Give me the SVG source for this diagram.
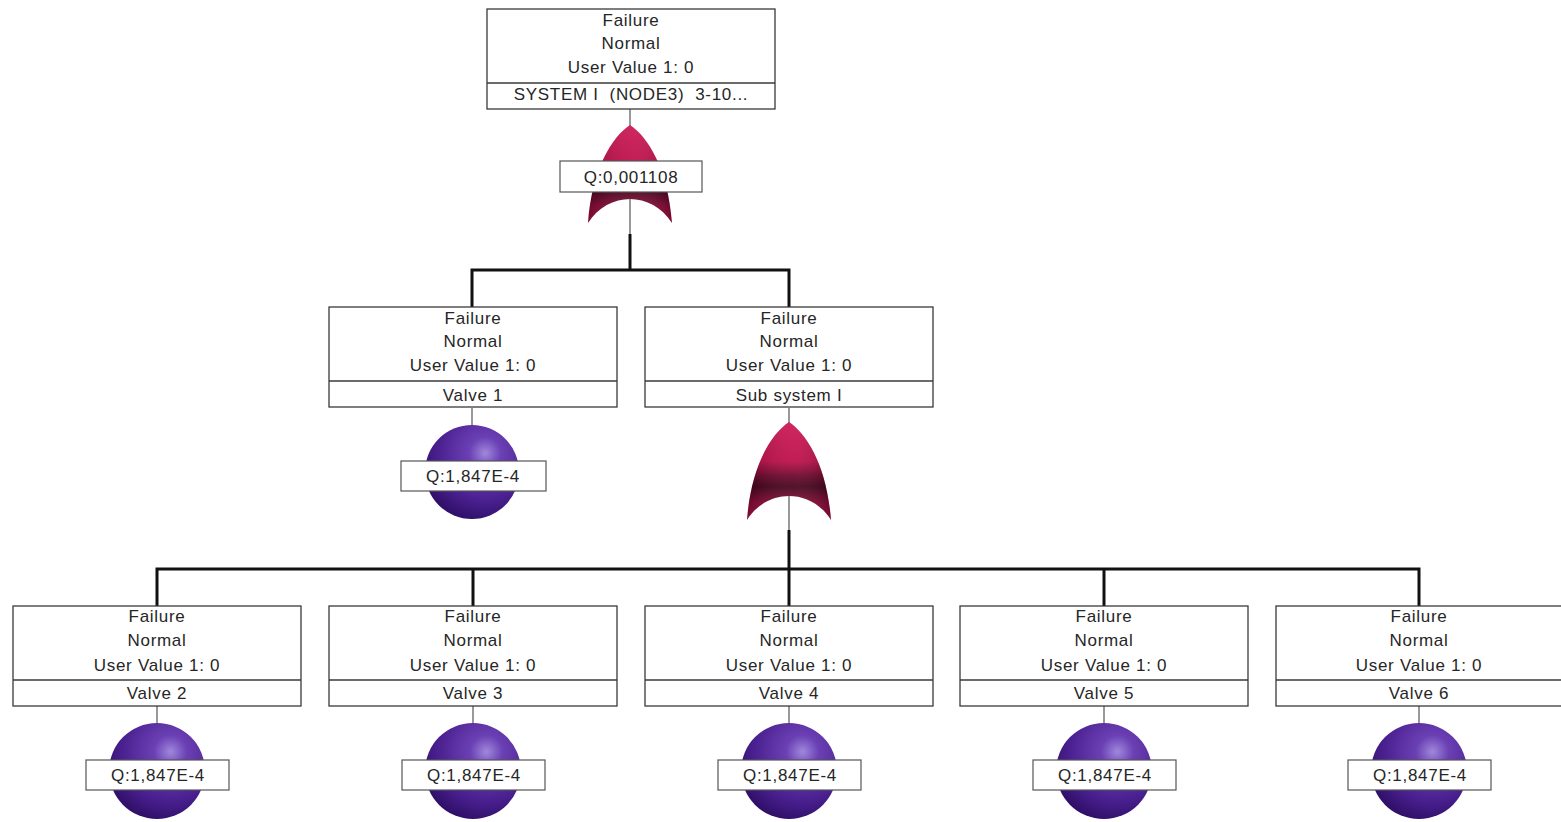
<svg xmlns="http://www.w3.org/2000/svg" width="1561" height="822" viewBox="0 0 1561 822">
  <style>
    .box { fill: #ffffff; stroke: #3a3a3a; stroke-width: 1.3; }
    .div { stroke: #3a3a3a; stroke-width: 1.3; }
    .t { font-family: "Liberation Sans", Arial, sans-serif; font-size: 17px; letter-spacing: 0.7px; fill: #262626; text-anchor: middle; dominant-baseline: central; }
    .q { fill: #ffffff; stroke: #555555; stroke-width: 1.2; }
    .thin { stroke: #555555; stroke-width: 1.2; fill: none; }
    .thick { stroke: #111111; stroke-width: 3; fill: none; }
  </style>
  <defs>
    <linearGradient id="gateFill" x1="0" y1="0" x2="0" y2="1">
      <stop offset="0" stop-color="#cc1452"/>
      <stop offset="0.4" stop-color="#bc0a46"/>
      <stop offset="0.56" stop-color="#660226"/>
      <stop offset="0.66" stop-color="#420018"/>
      <stop offset="0.82" stop-color="#860834"/>
      <stop offset="1" stop-color="#a00c42"/>
    </linearGradient>
    <linearGradient id="gateShine" x1="0" y1="0" x2="1" y2="0">
      <stop offset="0" stop-color="#000000" stop-opacity="0.18"/>
      <stop offset="0.55" stop-color="#ffffff" stop-opacity="0.08"/>
      <stop offset="1" stop-color="#000000" stop-opacity="0.22"/>
    </linearGradient>
    <radialGradient id="ballFill" cx="0.64" cy="0.3" r="0.78">
      <stop offset="0" stop-color="#a088dc"/>
      <stop offset="0.22" stop-color="#6a40b4"/>
      <stop offset="0.65" stop-color="#4a2090"/>
      <stop offset="1" stop-color="#2a0c60"/>
    </radialGradient>
    <!-- OR gate: pointed top, bulging sides, concave base; origin at apex -->
    <path id="orGate" d="M0,0 C18,12 38,44 42,98 C32,82 16,74 0,74 C-16,74 -32,82 -42,98 C-38,44 -18,12 0,0 Z"/>
  </defs>

  <!-- connectors -->
  <g id="connectors">
    <line class="thin" x1="630" y1="108" x2="630" y2="236"/>
    <line class="thick" x1="630" y1="234" x2="630" y2="270"/>
    <polyline class="thick" points="472,307 472,270 789,270 789,307"/>
    <line class="thin" x1="472" y1="408" x2="472" y2="430"/>
    <line class="thin" x1="789" y1="408" x2="789" y2="532"/>
    <line class="thick" x1="789" y1="530" x2="789" y2="569"/>
    <polyline class="thick" points="157,606 157,569 1419,569 1419,606"/>
    <line class="thick" x1="473" y1="569" x2="473" y2="606"/>
    <line class="thick" x1="789" y1="569" x2="789" y2="606"/>
    <line class="thick" x1="1104" y1="569" x2="1104" y2="606"/>
    <line class="thin" x1="157" y1="706" x2="157" y2="728"/>
    <line class="thin" x1="473" y1="706" x2="473" y2="728"/>
    <line class="thin" x1="789" y1="706" x2="789" y2="728"/>
    <line class="thin" x1="1104" y1="706" x2="1104" y2="728"/>
    <line class="thin" x1="1419" y1="706" x2="1419" y2="728"/>
  </g>

  <!-- top event -->
  <g id="top">
    <rect class="box" x="487" y="9" width="288" height="100"/>
    <line class="div" x1="487" y1="83" x2="775" y2="83"/>
    <text class="t" x="631" y="20">Failure</text>
    <text class="t" x="631" y="43">Normal</text>
    <text class="t" x="631" y="67">User Value 1: 0</text>
    <text class="t" x="631" y="94" xml:space="preserve">SYSTEM I  (NODE3)  3-10...</text>
  </g>
  <g id="gate-top" transform="translate(630,125)">
    <use href="#orGate" fill="url(#gateFill)"/>
    <use href="#orGate" fill="url(#gateShine)"/>
    <rect class="q" x="-70" y="36" width="142" height="31"/>
    <text class="t" x="1" y="52">Q:0,001108</text>
  </g>

  <!-- middle level -->
  <g id="valve1">
    <rect class="box" x="329" y="307" width="288" height="100"/>
    <line class="div" x1="329" y1="381" x2="617" y2="381"/>
    <text class="t" x="473" y="318">Failure</text>
    <text class="t" x="473" y="341">Normal</text>
    <text class="t" x="473" y="365">User Value 1: 0</text>
    <text class="t" x="473" y="395">Valve 1</text>
    <circle cx="472" cy="472" r="47" fill="url(#ballFill)"/>
    <rect class="q" x="401" y="461" width="145" height="30"/>
    <text class="t" x="473" y="476">Q:1,847E-4</text>
  </g>
  <g id="subsystem">
    <rect class="box" x="645" y="307" width="288" height="100"/>
    <line class="div" x1="645" y1="381" x2="933" y2="381"/>
    <text class="t" x="789" y="318">Failure</text>
    <text class="t" x="789" y="341">Normal</text>
    <text class="t" x="789" y="365">User Value 1: 0</text>
    <text class="t" x="789" y="395">Sub system I</text>
  </g>
  <g id="gate-sub" transform="translate(789,422)">
    <use href="#orGate" fill="url(#gateFill)"/>
    <use href="#orGate" fill="url(#gateShine)"/>
  </g>

  <!-- basic events -->
  <g id="valve2" transform="translate(13,606)">
    <rect class="box" x="0" y="0" width="288" height="100"/>
    <line class="div" x1="0" y1="74" x2="288" y2="74"/>
    <text class="t" x="144" y="10">Failure</text>
    <text class="t" x="144" y="34">Normal</text>
    <text class="t" x="144" y="59">User Value 1: 0</text>
    <text class="t" x="144" y="87">Valve 2</text>
    <circle cx="144" cy="165" r="48" fill="url(#ballFill)"/>
    <rect class="q" x="73" y="154" width="143" height="30"/>
    <text class="t" x="145" y="169">Q:1,847E-4</text>
  </g>
  <g id="valve3" transform="translate(329,606)">
    <rect class="box" x="0" y="0" width="288" height="100"/>
    <line class="div" x1="0" y1="74" x2="288" y2="74"/>
    <text class="t" x="144" y="10">Failure</text>
    <text class="t" x="144" y="34">Normal</text>
    <text class="t" x="144" y="59">User Value 1: 0</text>
    <text class="t" x="144" y="87">Valve 3</text>
    <circle cx="144" cy="165" r="48" fill="url(#ballFill)"/>
    <rect class="q" x="73" y="154" width="143" height="30"/>
    <text class="t" x="145" y="169">Q:1,847E-4</text>
  </g>
  <g id="valve4" transform="translate(645,606)">
    <rect class="box" x="0" y="0" width="288" height="100"/>
    <line class="div" x1="0" y1="74" x2="288" y2="74"/>
    <text class="t" x="144" y="10">Failure</text>
    <text class="t" x="144" y="34">Normal</text>
    <text class="t" x="144" y="59">User Value 1: 0</text>
    <text class="t" x="144" y="87">Valve 4</text>
    <circle cx="144" cy="165" r="48" fill="url(#ballFill)"/>
    <rect class="q" x="73" y="154" width="143" height="30"/>
    <text class="t" x="145" y="169">Q:1,847E-4</text>
  </g>
  <g id="valve5" transform="translate(960,606)">
    <rect class="box" x="0" y="0" width="288" height="100"/>
    <line class="div" x1="0" y1="74" x2="288" y2="74"/>
    <text class="t" x="144" y="10">Failure</text>
    <text class="t" x="144" y="34">Normal</text>
    <text class="t" x="144" y="59">User Value 1: 0</text>
    <text class="t" x="144" y="87">Valve 5</text>
    <circle cx="144" cy="165" r="48" fill="url(#ballFill)"/>
    <rect class="q" x="73" y="154" width="143" height="30"/>
    <text class="t" x="145" y="169">Q:1,847E-4</text>
  </g>
  <g id="valve6" transform="translate(1276,606)">
    <rect class="box" x="0" y="0" width="288" height="100"/>
    <line class="div" x1="0" y1="74" x2="288" y2="74"/>
    <text class="t" x="143" y="10">Failure</text>
    <text class="t" x="143" y="34">Normal</text>
    <text class="t" x="143" y="59">User Value 1: 0</text>
    <text class="t" x="143" y="87">Valve 6</text>
    <circle cx="143" cy="165" r="48" fill="url(#ballFill)"/>
    <rect class="q" x="72" y="154" width="143" height="30"/>
    <text class="t" x="144" y="169">Q:1,847E-4</text>
  </g>
</svg>
